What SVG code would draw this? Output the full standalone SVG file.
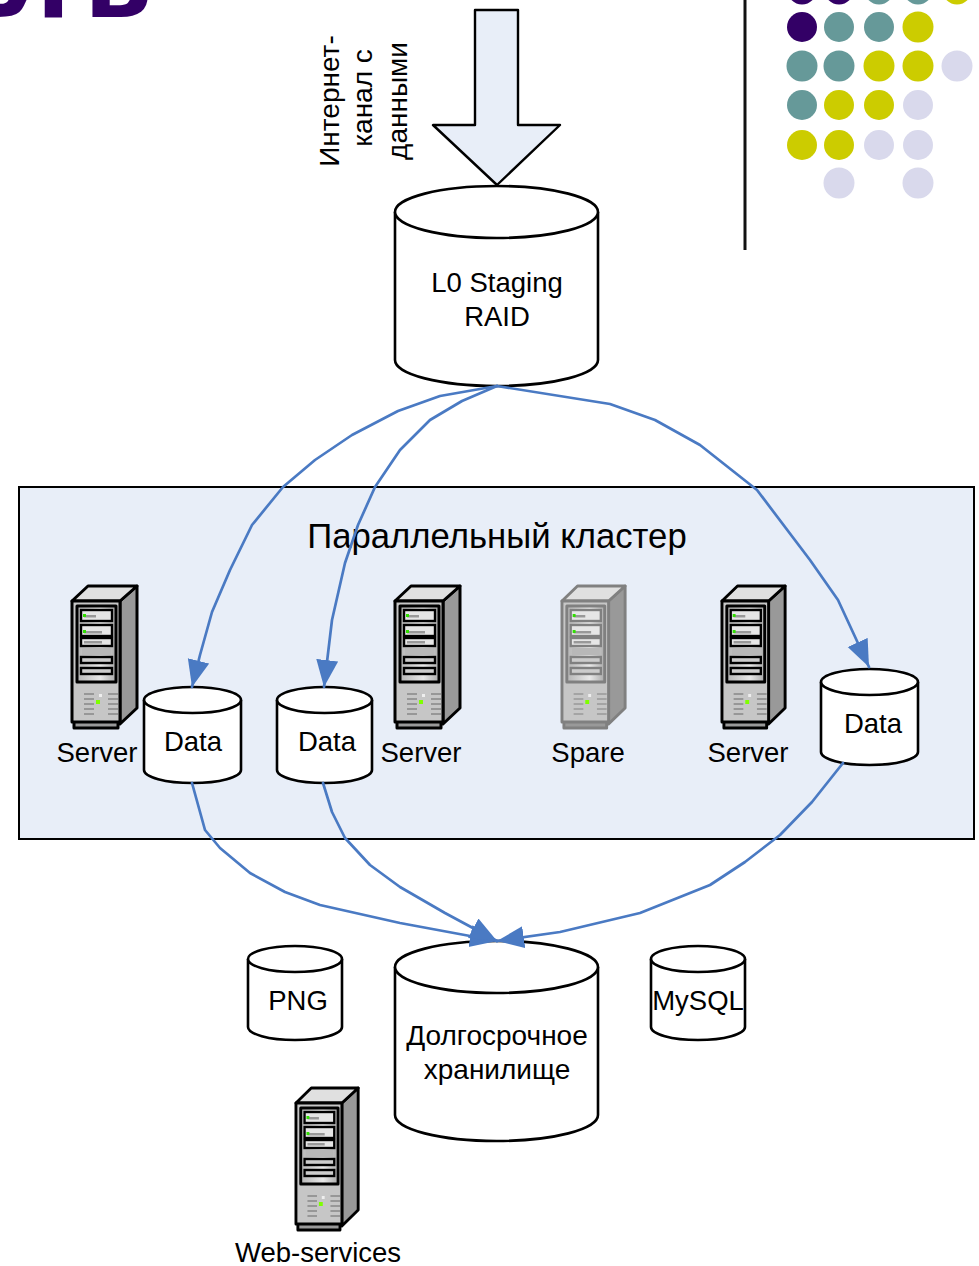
<svg xmlns="http://www.w3.org/2000/svg" width="979" height="1266" viewBox="0 0 979 1266">
<style>
text{font-family:"Liberation Sans",Arial,sans-serif;fill:#000;font-size:27.5px;text-anchor:middle}
.cyl{fill:#fff;stroke:#000;stroke-width:2.6}
.conn{fill:none;stroke:#4a7ac3;stroke-width:2.7;stroke-linejoin:round;stroke-linecap:round}
.p{fill:#330066}.t{fill:#669999}.y{fill:#cccc00}.l{fill:#d9d9ec}
.o{stroke:var(--ol,#000);stroke-width:3;stroke-linejoin:round}
.o2{stroke:var(--ol,#000);stroke-width:2.4}
.st{stroke:var(--st,#888);stroke-width:1.6;fill:none}
</style>
<defs>
<marker id="ah" markerUnits="userSpaceOnUse" markerWidth="30" markerHeight="24" refX="27" refY="11" orient="auto"><path d="M0 0L27 11L0 22Z" fill="#4a7ac3"/></marker>
<linearGradient id="bay" x1="0" x2="1" y1="0" y2="0"><stop offset="0" stop-color="#b5b5b5"/><stop offset="0.6" stop-color="#e8e8e8"/><stop offset="1" stop-color="#aaa"/></linearGradient>
<symbol id="srv" viewBox="0 0 70 146" preserveAspectRatio="none" overflow="visible">
<path class="o" d="M3 137H47V144H3Z" fill="#999"/>
<path class="o" d="M49 17L66 2V124L49 140Z" fill="#999"/>
<path class="o" d="M1 17L17 2H66L49 17Z" fill="#e0e0e0"/>
<rect class="o" x="1" y="17" width="48" height="121" fill="#c6c6c6"/>
<rect class="o" x="6" y="22" width="39" height="76" fill="url(#bay)"/>
<rect class="o2" x="10" y="26" width="31" height="11" fill="#e6e6e6"/>
<rect class="o2" x="10" y="41" width="31" height="11" fill="#e6e6e6"/>
<rect class="o2" x="10" y="54" width="31" height="8" fill="#e6e6e6"/>
<rect x="11" y="64" width="29" height="7" fill="#b8b8b8"/>
<rect class="o2" x="10" y="73" width="31" height="6" fill="#ccc"/>
<rect class="o2" x="10" y="84" width="31" height="6" fill="#ccc"/>
<rect x="13" y="31" width="12" height="2.500" fill="#999"/>
<rect x="13" y="47" width="18" height="2.500" fill="#999"/>
<rect x="13" y="57" width="18" height="2.500" fill="#999"/>
<rect x="12" y="30" width="3" height="3" fill="#2fe000"/>
<rect x="12" y="46" width="3" height="3" fill="#2fe000"/>
<path class="st" d="M13 110H23M13 115H23M13 120H23M13 125H23M13 130H23M37 110H47M37 115H47M37 120H47M37 125H47M37 130H47"/>
<rect x="25" y="116" width="4" height="4" fill="#7fff00"/>
<rect x="28" y="110" width="3" height="3" fill="#eee"/>
</symbol>
</defs>
<g id="title"><text x="-18 22 84" y="17" style="font-size:92px;font-weight:700;fill:#330066;font-family:'DejaVu Sans',sans-serif;text-anchor:start">УТЬ</text></g>
<g id="deco">
<path d="M745 0V250" stroke="#111" stroke-width="3"/>
<g class="dots">
<circle class="p" cx="802" cy="-10" r="14.500"/><circle class="p" cx="839" cy="-10" r="14.500"/><circle class="t" cx="879" cy="-10" r="14.500"/><circle class="t" cx="918" cy="-10" r="14.500"/><circle class="y" cx="957" cy="-10" r="14.500"/>
<circle class="p" cx="802" cy="27" r="15"/><circle class="t" cx="839" cy="27" r="15"/><circle class="t" cx="879" cy="27" r="15"/><circle class="y" cx="918" cy="27" r="15.500"/>
<circle class="t" cx="802" cy="66" r="15.500"/><circle class="t" cx="839" cy="66" r="15.500"/><circle class="y" cx="879" cy="66" r="15.500"/><circle class="y" cx="918" cy="66" r="15.500"/><circle class="l" cx="957" cy="66" r="15.500"/>
<circle class="t" cx="802" cy="105" r="15"/><circle class="y" cx="839" cy="105" r="15"/><circle class="y" cx="879" cy="105" r="15"/><circle class="l" cx="918" cy="105" r="15"/>
<circle class="y" cx="802" cy="145" r="15"/><circle class="y" cx="839" cy="145" r="15"/><circle class="l" cx="879" cy="145" r="15"/><circle class="l" cx="918" cy="145" r="15"/>
<circle class="l" cx="839" cy="183" r="15.500"/><circle class="l" cx="918" cy="183" r="15.500"/>
</g>
</g>
<g id="cluster">
<rect x="19" y="487" width="955" height="352" fill="#e8eef8" stroke="#000" stroke-width="2"/>
<text x="497" y="548" style="font-size:34.700px">Параллельный кластер</text>
</g>
<g id="input-arrow">
<path d="M475 10H518V125H560L497 185L433 125H475Z" fill="#e8eef8" stroke="#000" stroke-width="2.400" stroke-linejoin="round"/>
<g transform="rotate(-90 0 0)">
<text x="-101" y="339" style="font-size:28px">Интернет-</text>
<text x="-98" y="372" style="font-size:28px">канал с</text>
<text x="-101" y="407" style="font-size:28px">данными</text>
</g>
</g>
<g id="l0"><path class="cyl" d="M395 212A101.500 26 0 0 1 598 212V360A101.500 26 0 0 1 395 360Z"/><path class="cyl" d="M395 212A101.500 26 0 0 0 598 212"/><text x="497" y="292">L0 Staging</text><text x="497" y="326">RAID</text></g>
<g id="server1"><use href="#srv" x="71" y="584" width="70" height="146"/><text x="97" y="762">Server</text></g>
<g id="server2"><use href="#srv" x="394" y="584" width="70" height="146"/><text x="421" y="762">Server</text></g>
<g id="spare"><use href="#srv" x="561" y="584" width="68" height="146" style="--ol:#808080;--st:#999"/><text x="588" y="762">Spare</text></g>
<g id="server3"><use href="#srv" x="721" y="584" width="68" height="146"/><text x="748" y="762">Server</text></g>
<g id="web"><use href="#srv" x="295" y="1086" width="67" height="146"/><text x="318" y="1262">Web-services</text></g>
<g id="data1"><path class="cyl" d="M144 700A48.500 13 0 0 1 241 700V770A48.500 13 0 0 1 144 770Z"/><path class="cyl" d="M144 700A48.500 13 0 0 0 241 700"/><text x="193" y="751">Data</text></g>
<g id="data2"><path class="cyl" d="M277 700A47.500 13 0 0 1 372 700V770A47.500 13 0 0 1 277 770Z"/><path class="cyl" d="M277 700A47.500 13 0 0 0 372 700"/><text x="327" y="751">Data</text></g>
<g id="data3"><path class="cyl" d="M821 682A48.500 13 0 0 1 918 682V752A48.500 13 0 0 1 821 752Z"/><path class="cyl" d="M821 682A48.500 13 0 0 0 918 682"/><text x="873" y="733">Data</text></g>
<g id="png"><path class="cyl" d="M248 959A47 13 0 0 1 342 959V1027A47 13 0 0 1 248 1027Z"/><path class="cyl" d="M248 959A47 13 0 0 0 342 959"/><text x="298" y="1010">PNG</text></g>
<g id="mysql"><path class="cyl" d="M651 959A47 13 0 0 1 745 959V1027A47 13 0 0 1 651 1027Z"/><path class="cyl" d="M651 959A47 13 0 0 0 745 959"/><text x="698" y="1010">MySQL</text></g>
<g id="archive"><path class="cyl" d="M395 967A101.500 26 0 0 1 598 967V1115A101.500 26 0 0 1 395 1115Z"/><path class="cyl" d="M395 967A101.500 26 0 0 0 598 967"/><text x="497" y="1045" style="font-size:28px">Долгосрочное</text><text x="497" y="1079" style="font-size:28px">хранилище</text></g>
<g id="connectors" class="conn">
<polyline marker-end="url(#ah)" points="497,386 440,396 398,411 352,435 315,460 283,487 252,525 230,570 212,612 200,655 192,687"/>
<polyline marker-end="url(#ah)" points="497,386 462,401 430,420 400,450 375,487 358,525 345,563 332,620 324,687"/>
<polyline marker-end="url(#ah)" points="497,386 610,404 655,420 700,445 757,490 810,560 838,600 869,667"/>
<polyline marker-end="url(#ah)" points="192,783 205,830 220,848 250,873 285,892 320,905 400,923 497,941"/>
<polyline marker-end="url(#ah)" points="323,783 332,812 345,838 370,865 400,887 445,913 497,941"/>
<polyline marker-end="url(#ah)" points="843,763 812,802 780,835 745,862 710,885 640,913 560,932 497,941"/>
</g>
</svg>
